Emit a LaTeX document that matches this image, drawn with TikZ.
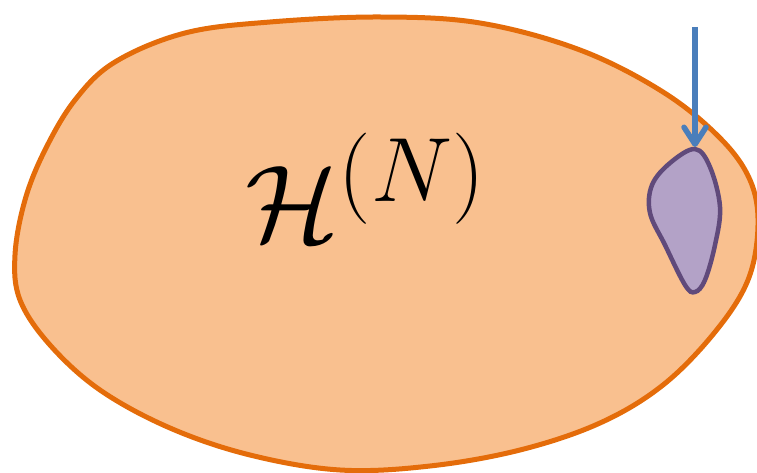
\documentclass[tikz,border=0pt]{standalone}
\usepackage{amsmath,amssymb}
\usetikzlibrary{arrows.meta}
\definecolor{blobfill}{HTML}{F9C08F}
\definecolor{blobline}{HTML}{E46C0A}
\definecolor{petalfill}{HTML}{B3A2C7}
\definecolor{petalline}{HTML}{604A7B}
\definecolor{pointer}{HTML}{4A7EBB}

\begin{document}
\begin{tikzpicture}[
  x=1pt,y=-1pt,
  blob/.style={
    draw=blobline,fill=blobfill,line width=5pt
  },
  petal/.style={
    draw=petalline,fill=petalfill,line width=4.5pt
  },
  pointerarrow/.style={
    draw=pointer,line width=5.5pt,
    -{Straight Barb[length=17pt,width=22pt,round]}
  },
  bigtext/.style={font=\Huge,scale=4.4,inner sep=0pt}
]
\useasboundingbox (0,0) rectangle (757,473);

% ---- the large space ----
\draw[blob] plot[smooth cycle,tension=0.6] coordinates {
  (270,22) (380,17) (480,23) (580,50) (663,92) (720,138) (750,180)
  (758,225) (748,280) (715,332) (663,385) (600,423) (520,450)
  (430,466) (340,470) (250,455) (170,428) (100,390) (50,345)
  (20,300) (15,255) (25,200) (45,150) (75,100) (115,62) (185,33)
};

\node[bigtext] (label) at (366,187) {$\mathcal{H}^{(N)}$};

% ---- the small region and the arrow onto it ----
\draw[petal] plot[smooth cycle,tension=0.6] coordinates {
  (695,149) (710,167) (720,207) (715,245) (705,280) (695,292)
  (685,285) (665,245) (650,213) (652,185) (670,163)
};

\coordinate (petalTop)   at (695,147);
\coordinate (arrowStart) at (695,27);

\draw[pointerarrow] (arrowStart) -- (petalTop);

\end{tikzpicture}
\end{document}
